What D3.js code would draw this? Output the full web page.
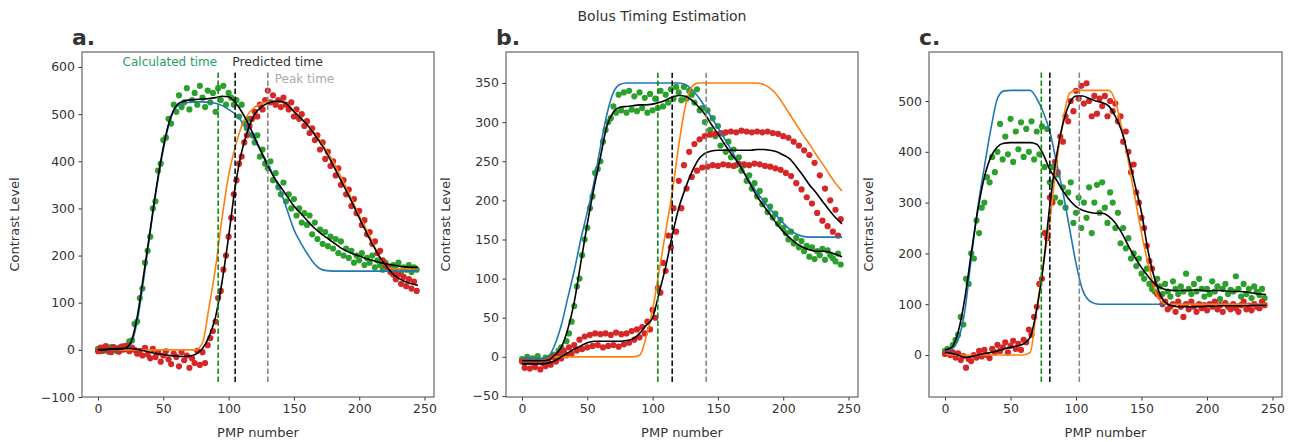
<!DOCTYPE html>
<html>
<head>
<meta charset="utf-8">
<script src="https://cdn.jsdelivr.net/npm/d3@7"></script>
<style>
  body { margin: 0; background: #fff; }
  svg { font-family: "DejaVu Sans", sans-serif; }
</style>
</head>
<body>
<svg id="chart" width="1293" height="442"></svg>
<script>
// PMP positions: scatter every 2, model/fit curves every 5
var pmp = d3.range(0, 246, 2),
    pmpLine = d3.range(0, 246, 5);

// ---- panel a ----
var greenA = [2,-3,5,0,-4,6,1,-2,4,0,
  8,3,18,20,55,60,110,130,185,210,
  240,300,315,380,395,445,450,490,480,520,
  505,540,515,525,555,510,530,545,520,560,
  535,515,550,525,545,505,555,530,560,520,
  545,535,520,530,495,520,480,470,490,455,
  440,455,410,425,395,385,400,360,375,345,
  330,355,315,330,300,320,285,300,270,290,
  265,285,245,270,235,255,225,250,220,240,
  215,235,205,230,200,215,195,210,185,200,
  190,205,180,195,185,200,175,190,180,170,
  185,175,165,180,170,185,165,175,170,180,
  165,175,170];
var redA = [-3,5,-2,8,0,-5,6,2,-4,7,
  1,9,-3,5,0,-8,-2,-12,4,-10,
  -18,2,-15,-6,-25,-12,-3,-20,-30,-8,
  -15,-35,-5,-22,-12,-38,-18,-28,-2,-32,
  -5,-28,10,25,40,60,110,125,170,200,
  240,280,330,360,395,410,440,455,475,490,
  505,495,520,510,530,550,525,540,520,530,
  515,535,520,510,525,495,510,490,500,475,
  485,460,470,445,455,425,440,405,420,390,
  400,370,385,350,360,330,340,305,320,290,
  295,265,275,245,250,225,230,205,210,190,
  180,175,165,160,150,160,140,155,135,150,
  130,145,125];
var blueA = [0,0,0,0,2,12,60,150,250,345,
  425,485,515,523,525,526,526,525,523,518,
  510,500,485,465,445,420,395,365,335,295,
  255,228,205,185,172,168,167,167,167,167,
  167,167,167,167,167,167,167,167,167,167];
var orangeA = [0,0,0,0,0,0,0,0,0,0,
  0,0,0,0,0,0,15,90,175,280,
  370,430,475,500,515,522,526,527,526,520,
  507,492,478,462,443,422,400,373,345,315,
  285,258,230,200,178,172,172,172,172,172];
var fitGreenA = [0,0,1,1,3,15,70,160,255,350,
  430,488,518,527,530,531,532,533,535,538,
  537,525,505,480,450,420,390,365,345,325,
  305,290,275,260,248,238,228,218,210,204,
  199,194,190,186,183,180,178,176,175,175];
var fitRedA = [0,1,2,3,3,3,1,-2,-5,-8,
  -10,-12,-13,-14,-13,-9,3,28,70,145,
  240,345,420,468,500,515,523,527,527,520,
  505,492,478,460,440,418,392,365,338,310,
  280,252,225,200,180,163,152,145,140,137];

// ---- panel b ----
var greenB = [-3,-8,0,-6,-2,-9,1,-5,-7,-1,
  -4,0,3,-2,8,12,5,20,30,45,
  65,90,100,130,150,165,190,205,235,240,
  250,275,290,300,305,320,312,335,315,338,
  312,340,316,333,314,338,318,331,312,336,
  315,330,318,340,320,335,325,342,330,345,
  338,328,345,330,340,335,325,342,315,318,
  300,315,290,305,282,295,270,285,262,275,
  255,265,245,255,238,245,225,232,215,222,
  205,212,195,200,185,192,178,183,170,175,
  165,158,150,160,145,152,140,148,135,142,
  128,140,125,135,130,138,124,136,130,126,
  122,132,118];
var redB = [-6,-14,-4,-15,-7,-13,-5,-16,-8,-12,
  -3,-10,0,-6,4,-2,8,2,12,4,
  15,8,22,10,26,12,28,14,30,15,
  29,12,30,14,28,15,31,13,29,16,
  30,18,33,22,35,25,38,30,45,35,
  60,50,88,82,120,110,155,140,190,160,
  225,190,245,215,262,230,272,238,278,242,
  282,243,284,245,285,244,286,246,287,245,
  288,244,287,247,289,246,288,245,287,247,
  288,246,287,244,288,243,286,241,285,239,
  282,235,280,231,275,222,270,214,264,204,
  258,196,248,184,232,174,215,167,200,160,
  188,155,176];
var blueB = [-2,-2,-2,-2,0,15,40,75,110,150,
  185,222,268,310,338,348,350,350,350,350,
  350,350,350,350,350,348,342,332,320,306,
  293,279,265,250,236,222,210,199,189,180,
  171,163,157,154,153,153,153,153,153,153];
var orangeB = [-5,-5,-5,-5,-3,0,0,0,0,0,
  0,0,0,0,0,0,0,0,2,25,
  60,110,160,210,270,320,345,350,350,350,
  350,350,350,350,350,350,350,348,343,335,
  323,310,297,284,272,259,247,234,222,212];
var fitGreenB = [-5,-5,-5,-5,-4,2,12,35,70,120,
  170,215,255,295,313,319,320,321,322,322,
  323,325,328,332,334,333,328,320,310,297,
  285,272,260,249,235,220,205,193,182,170,
  160,152,145,140,137,135,135,134,131,128];
var fitRedB = [-9,-9,-9,-9,-8,-5,0,5,10,14,
  18,20,20,20,20,20,21,23,30,40,
  50,82,115,155,190,215,236,252,260,263,
  264,264,264,264,264,264,265,265,264,262,
  258,253,243,232,220,210,199,188,178,170];

// ---- panel c ----
var greenC = [8,12,10,20,30,40,75,60,150,140,
  200,190,265,240,290,300,350,340,390,360,
  400,455,385,430,395,465,380,440,405,458,
  390,445,400,460,385,440,395,450,370,445,
  340,370,310,355,300,330,290,320,340,260,
  280,310,250,300,270,330,240,300,335,280,
  340,290,260,320,300,250,280,220,250,210,
  230,190,200,175,190,160,150,170,140,130,
  125,150,135,120,140,125,115,145,130,120,
  135,125,160,130,120,140,125,150,130,115,
  130,120,145,125,135,110,130,140,120,128,
  125,155,130,115,140,120,130,112,135,125,
  118,130,112];
var redC = [2,8,0,5,-5,3,-10,-2,-25,-8,
  -12,0,-5,8,-3,10,0,-6,12,5,
  20,8,15,25,5,18,28,12,22,10,
  30,25,50,40,75,95,140,150,240,230,
  310,300,380,360,430,420,470,460,500,480,
  520,505,530,495,535,500,470,510,475,505,
  490,510,470,500,480,495,460,470,420,440,
  400,360,375,320,300,270,250,215,185,170,
  140,120,115,100,105,90,95,100,85,105,
  95,75,100,90,105,95,85,100,92,98,
  88,100,95,105,90,98,85,102,95,90,
  100,92,85,98,105,90,97,88,100,95,
  92,105,98];
var blueC = [8,12,30,85,190,290,370,445,505,520,
  521,521,521,521,505,478,440,380,320,250,
  180,128,107,101,100,100,100,100,100,100,
  100,100,100,100,100,100,100,100,100,100,
  100,100,100,100,100,100,100,100,100,100];
var orangeC = [3,0,0,0,0,0,0,0,0,0,
  0,0,0,5,92,178,264,375,460,515,
  521,521,521,521,521,521,500,445,380,310,
  240,180,130,105,100,100,100,100,100,100,
  100,100,100,100,100,100,100,100,100,100];
var fitGreenC = [10,15,45,110,200,285,350,390,410,417,
  418,418,418,418,415,395,365,345,323,305,
  292,285,281,279,279,273,260,240,215,192,
  172,155,140,132,128,127,127,127,128,128,
  126,127,127,126,125,125,124,122,120,119];
var fitRedC = [5,3,0,-5,-3,0,3,5,8,12,
  15,18,22,35,90,175,295,390,455,495,
  510,510,505,500,497,490,470,440,390,335,
  280,205,150,115,100,96,95,95,95,95,
  96,96,97,97,97,97,97,98,98,98];

// timing markers per panel: calculated, predicted, peak
var timesA = [92, 105, 130],
    timesB = [104, 115, 141],
    timesC = [73.5, 80, 102.5];

var xTicks = [0, 50, 100, 150, 200, 250],
    yTicksA = [-100, 0, 100, 200, 300, 400, 500, 600],
    yTicksB = [-50, 0, 50, 100, 150, 200, 250, 300, 350],
    yTicksC = [0, 100, 200, 300, 400, 500];

var panels = [
  {label: "a.", left: 82, right: 434, yDom: [-100, 631.8], yTicks: yTicksA, vSpan: [-68, 589],
   green: greenA, red: redA, blue: blueA, orange: orangeA, fitG: fitGreenA, fitR: fitRedA, times: timesA},
  {label: "b.", left: 506, right: 858, yDom: [-51.3, 389.6], yTicks: yTicksB, vSpan: [-32, 363],
   green: greenB, red: redB, blue: blueB, orange: orangeB, fitG: fitGreenB, fitR: fitRedB, times: timesB},
  {label: "c.", left: 929, right: 1282, yDom: [-82.7, 596.5], yTicks: yTicksC, vSpan: [-53, 557],
   green: greenC, red: redC, blue: blueC, orange: orangeC, fitG: fitGreenC, fitR: fitRedC, times: timesC}
];

var plotTop = 52, plotBottom = 397;
var svg = d3.select("#chart");
var timeColors = ["#138a13", "#111", "#888"];

svg.append("text").attr("x", 662).attr("y", 21).attr("text-anchor", "middle")
  .attr("font-size", 14).attr("fill", "#333").text("Bolus Timing Estimation");

panels.forEach(function (p, pi) {
  var x = d3.scaleLinear().domain([-12.25, 257.25]).range([p.left, p.right]),
      y = d3.scaleLinear().domain(p.yDom).range([plotBottom, plotTop]);
  var g = svg.append("g");

  var clipId = "clip" + pi;
  g.append("clipPath").attr("id", clipId).append("rect")
    .attr("x", p.left).attr("y", plotTop).attr("width", p.right - p.left).attr("height", plotBottom - plotTop);
  var plot = g.append("g").attr("clip-path", "url(#" + clipId + ")");

  // scatter
  [[p.green, "#2ca02c"], [p.red, "#d62728"]].forEach(function (s) {
    plot.selectAll(null).data(s[0]).enter().append("circle")
      .attr("cx", function (d, i) { return x(pmp[i]); })
      .attr("cy", function (d) { return y(d); })
      .attr("r", 3.1).attr("fill", s[1]);
  });

  var line = d3.line().x(function (d, i) { return x(pmpLine[i]); }).y(function (d) { return y(d); })
    .curve(d3.curveMonotoneX);
  [[p.blue, "#1f77b4"], [p.orange, "#ff7f0e"], [p.fitG, "#000"], [p.fitR, "#000"]].forEach(function (s) {
    plot.append("path").attr("d", line(s[0])).attr("fill", "none")
      .attr("stroke", s[1]).attr("stroke-width", 1.6);
  });

  // timing markers
  p.times.forEach(function (t, k) {
    plot.append("line").attr("x1", x(t)).attr("x2", x(t))
      .attr("y1", y(p.vSpan[0])).attr("y2", y(p.vSpan[1]))
      .attr("stroke", timeColors[k]).attr("stroke-width", 1.6).attr("stroke-dasharray", "5.5,2.5");
  });

  // axes
  var ax = g.append("g").attr("transform", "translate(0," + plotBottom + ")")
    .call(d3.axisBottom(x).tickValues(xTicks).tickSize(3.5).tickPadding(3.5));
  var ay = g.append("g").attr("transform", "translate(" + p.left + ",0)")
    .call(d3.axisLeft(y).tickValues(p.yTicks).tickSize(3.5).tickPadding(3.5)
      .tickFormat(function (d) { return d < 0 ? "\u2212" + Math.abs(d) : d; }));
  [ax, ay].forEach(function (a) {
    a.select(".domain").remove();
    a.selectAll("line").attr("stroke", "#333");
    a.selectAll("text").attr("font-size", 12.5).attr("fill", "#333")
      .attr("font-family", "DejaVu Sans, sans-serif");
  });

  g.append("rect").attr("x", p.left).attr("y", plotTop).attr("width", p.right - p.left)
    .attr("height", plotBottom - plotTop).attr("fill", "none").attr("stroke", "#666").attr("stroke-width", 1.2);

  g.append("text").attr("x", (p.left + p.right) / 2).attr("y", 437).attr("text-anchor", "middle")
    .attr("font-size", 13).attr("fill", "#333").text("PMP number");
  var yl = p.left - 64 + (pi === 0 ? 0 : 7);
  g.append("text").attr("transform", "translate(" + (yl + 1) + "," + (plotTop + plotBottom) / 2 + ") rotate(-90)")
    .attr("text-anchor", "middle").attr("font-size", 13).attr("fill", "#333").text("Contrast Level");

  g.append("text").attr("x", p.left - 10).attr("y", 45)
    .attr("font-size", 22).attr("font-weight", "bold").attr("fill", "#333").text(p.label);

  if (pi === 0) {
    g.append("text").attr("x", x(p.times[0]) - 1).attr("y", y(602)).attr("text-anchor", "end")
      .attr("font-size", 12).attr("fill", "#1fa060").text("Calculated time");
    g.append("text").attr("x", x(p.times[1]) - 3).attr("y", y(602))
      .attr("font-size", 12.5).attr("fill", "#333").text("Predicted time");
    g.append("text").attr("x", x(p.times[2]) + 7).attr("y", y(567))
      .attr("font-size", 12).attr("fill", "#aaa").text("Peak time");
  }
});
</script>
</body>
</html>
